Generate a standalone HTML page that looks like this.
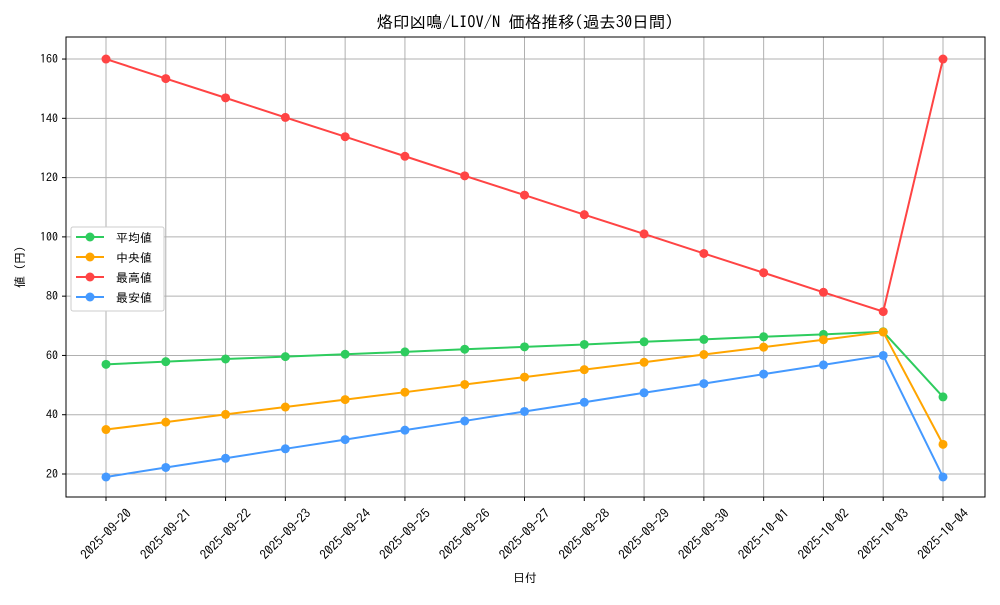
<!DOCTYPE html>
<html><head><meta charset="utf-8"><style>
body{margin:0;background:#fff}
text{font-family:"IPAGothic","Noto Sans CJK JP",sans-serif;fill:#000}
</style></head><body>
<svg width="1000" height="600" xmlns="http://www.w3.org/2000/svg">
<rect width="1000" height="600" fill="#fff"/>
<g id="grid" stroke="#b0b0b0" stroke-width="1"></g>
<rect x="66" y="37" width="919" height="460" fill="none" stroke="#000" stroke-width="1"/>
<g id="ticks"></g>
<g id="series"></g>
<text x="525" y="28" font-size="16.5" text-anchor="middle">烙印凶鳴/LIOV/N 価格推移(過去30日間)</text>
<text x="525" y="582" font-size="12" text-anchor="middle">日付</text>
<text x="0" y="0" font-size="12" text-anchor="middle" transform="translate(24,267) rotate(-90)">値 (円)</text>
<g>
<rect x="71" y="227" width="93" height="84" fill="#fff" stroke="#ccc" rx="2"/>
<line x1="76" y1="237" x2="104" y2="237" stroke="#2ecc5e" stroke-width="2"/><circle cx="90" cy="237" r="4.5" fill="#2ecc5e"/><text x="116" y="242" font-size="12">平均値</text>
<line x1="76" y1="257" x2="104" y2="257" stroke="#ffa500" stroke-width="2"/><circle cx="90" cy="257" r="4.5" fill="#ffa500"/><text x="116" y="262" font-size="12">中央値</text>
<line x1="76" y1="277" x2="104" y2="277" stroke="#ff4444" stroke-width="2"/><circle cx="90" cy="277" r="4.5" fill="#ff4444"/><text x="116" y="282" font-size="12">最高値</text>
<line x1="76" y1="297" x2="104" y2="297" stroke="#4499ff" stroke-width="2"/><circle cx="90" cy="297" r="4.5" fill="#4499ff"/><text x="116" y="302" font-size="12">最安値</text>
</g>
</svg>
<script>
const ns="http://www.w3.org/2000/svg";
const X=i=>106+i*59.786, Y=v=>474-(v-20)*2.964;
const grid=document.getElementById('grid'),ticks=document.getElementById('ticks'),ser=document.getElementById('series');
function el(p,t,a,txt){const e=document.createElementNS(ns,t);for(const k in a)e.setAttribute(k,a[k]);if(txt)e.textContent=txt;p.appendChild(e);return e;}
const dates=["2025-09-20","2025-09-21","2025-09-22","2025-09-23","2025-09-24","2025-09-25","2025-09-26","2025-09-27","2025-09-28","2025-09-29","2025-09-30","2025-10-01","2025-10-02","2025-10-03","2025-10-04"];
dates.forEach((d,i)=>{const x=X(i);el(grid,'line',{x1:x,x2:x,y1:37,y2:497});el(ticks,'line',{x1:x,x2:x,y1:497,y2:501,stroke:'#000'});
el(ticks,'text',{x:0,y:4.5,'font-size':13,'text-anchor':'middle',transform:`translate(${x},${534}) rotate(-45)`},d);});
for(let v=20;v<=160;v+=20){const y=Y(v);el(grid,'line',{x1:66,x2:985,y1:y,y2:y});el(ticks,'line',{x1:62,x2:66,y1:y,y2:y,stroke:'#000'});el(ticks,'text',{x:58,y:y+4,'font-size':12,'text-anchor':'end'},v);}
const S=[["#2ecc5e",[57,57.9,58.8,59.6,60.4,61.2,62.1,62.9,63.7,64.6,65.4,66.3,67.1,68,46]],
["#ffa500",[35,37.5,40.1,42.6,45.1,47.6,50.2,52.7,55.2,57.7,60.3,62.8,65.3,67.9,30]],
["#ff4444",[160,153.4,146.9,140.3,133.8,127.2,120.6,114.1,107.5,101,94.4,87.9,81.3,74.8,160]],
["#4499ff",[19,22.2,25.3,28.5,31.6,34.8,37.9,41.1,44.2,47.4,50.5,53.7,56.8,60,19]]];
S.forEach(([c,d])=>{el(ser,'polyline',{points:d.map((v,i)=>X(i)+','+Y(v)).join(' '),fill:'none',stroke:c,'stroke-width':2});
d.forEach((v,i)=>el(ser,'circle',{cx:X(i),cy:Y(v),r:4.5,fill:c}));});
</script>
</body></html>
